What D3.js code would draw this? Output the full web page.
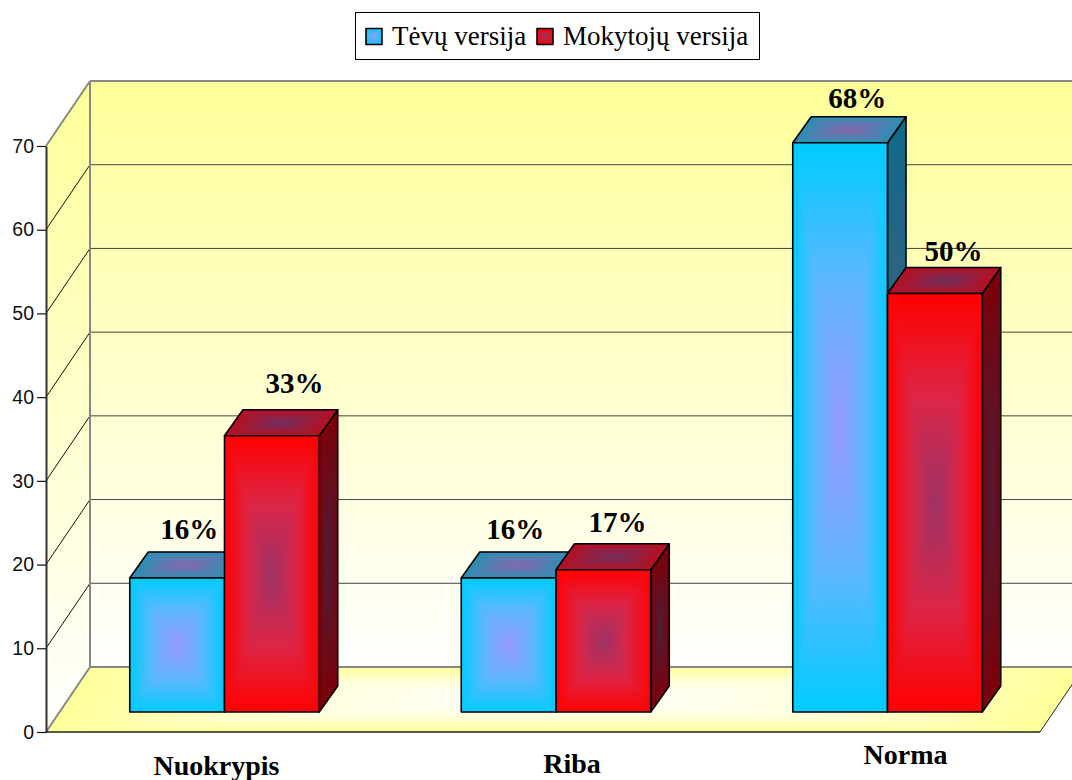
<!DOCTYPE html>
<html><head><meta charset="utf-8">
<script src="https://cdn.jsdelivr.net/npm/d3@7"></script>
<style>html,body{margin:0;padding:0;background:#fff}svg{display:block}</style>
</head><body><div id="c"></div>
<script>
const categories = ["Nuokrypis", "Riba", "Norma"];
const seriesNames = ["Tėvų versija", "Mokytojų versija"];
const tevu = [16, 16, 68];
const mokytoju = [33, 17, 50];
const labelsTevu = ["16%", "16%", "68%"];
const labelsMokytoju = ["33%", "17%", "50%"];
const yTicks = [0, 10, 20, 30, 40, 50, 60, 70];

const W = 1072, H = 780;
const svg = d3.select("#c").append("svg").attr("width", W).attr("height", H);
const defs = svg.append("defs");

const y = d3.scaleLinear().domain([0, 70]).range([732, 146]);
const x = d3.scaleBand().domain(categories).range([58.75, 1053.25]);
const frontX = 46, frontR = 1040;
const wallDx = 44, wallDy = 65;
const barLift = 20, barDx = 18.5, barDy = 26, barW = 94.75;

// hand-placed label offsets of the original chart
const labelDx = [[12, 6.5, 17], [22.5, 14, 18.5]];
const labelDy = [[-39, -39, -35], [-43, -38, -32]];
const catDx = [-8, 16, 18];
const catY = [775, 773, 764];

function lin(id, dir, stops) {
  const g = defs.append("linearGradient").attr("id", id)
    .attr("x1", dir[0]).attr("y1", dir[1]).attr("x2", dir[2]).attr("y2", dir[3]);
  stops.forEach(s => g.append("stop").attr("offset", s[0]).attr("stop-color", s[1]));
  return `url(#${id})`;
}
const pts = a => a.map(p => p.join(",")).join(" ");
let uid = 0;
const blurs = {};
function blurFilter(sd) {
  if (!blurs[sd]) {
    const id = "b" + (uid++);
    const f = defs.append("filter").attr("id", id).attr("filterUnits", "userSpaceOnUse")
      .attr("x", 0).attr("y", 0).attr("width", W).attr("height", H)
      .attr("color-interpolation-filters", "sRGB");
    f.append("feGaussianBlur").attr("stdDeviation", sd);
    blurs[sd] = `url(#${id})`;
  }
  return blurs[sd];
}
// rectangular path gradient: triangles from each edge to the centre, softened and clipped to the face
function pathGrad(g, corners, edge, centre, sd, mid) {
  const cx = d3.mean(corners, p => p[0]), cy = d3.mean(corners, p => p[1]);
  const cid = "c" + (uid++);
  defs.append("clipPath").attr("id", cid).append("polygon").attr("points", pts(corners));
  const inner = g.append("g").attr("clip-path", `url(#${cid})`).append("g").attr("filter", blurFilter(sd));
  inner.append("polygon").attr("points", pts(corners)).attr("fill", edge)
    .attr("stroke", edge).attr("stroke-width", sd * 8);
  corners.forEach((p, i) => {
    const q = corners[(i + 1) % 4];
    const ex = q[0] - p[0], ey = q[1] - p[1];
    const t = ((cx - p[0]) * ex + (cy - p[1]) * ey) / (ex * ex + ey * ey);
    const fx = p[0] + t * ex, fy = p[1] + t * ey;
    const id = "g" + (uid++);
    const gr = defs.append("linearGradient").attr("id", id).attr("gradientUnits", "userSpaceOnUse")
      .attr("x1", fx).attr("y1", fy).attr("x2", cx).attr("y2", cy);
    gr.append("stop").attr("offset", 0).attr("stop-color", edge);
    if (mid) gr.append("stop").attr("offset", mid[0]).attr("stop-color", mid[1]);
    gr.append("stop").attr("offset", 1).attr("stop-color", centre);
    inner.append("polygon").attr("points", pts([p, q, [cx, cy]]))
      .attr("fill", `url(#${id})`).attr("stroke", `url(#${id})`).attr("stroke-width", 0.8);
  });
}
function outline(g, p, w) {
  g.append("polygon").attr("points", pts(p)).attr("fill", "none")
    .attr("stroke", "#000").attr("stroke-width", w || 1.6).attr("stroke-linejoin", "round");
}

// walls
const plotTop = y(70), plotBot = y(0);
const wallFill = lin("wall", [0, 0, 0, 1], [[0, "#ffff99"], [1, "#ffffff"]]);
const bg = svg.append("g");
bg.append("polygon").attr("points", pts([[frontX + wallDx, plotTop - wallDy], [W + 2, plotTop - wallDy], [W + 2, plotBot - wallDy], [frontX + wallDx, plotBot - wallDy]])).attr("fill", wallFill);
bg.append("polygon").attr("points", pts([[frontX, plotTop], [frontX + wallDx, plotTop - wallDy], [frontX + wallDx, plotBot - wallDy], [frontX, plotBot]])).attr("fill", wallFill);

// grid
yTicks.slice(1, -1).forEach(t => {
  bg.append("line").attr("x1", frontX + wallDx).attr("x2", W).attr("y1", y(t) - wallDy).attr("y2", y(t) - wallDy).attr("stroke", "#444").attr("stroke-width", 1);
  bg.append("line").attr("x1", frontX).attr("x2", frontX + wallDx).attr("y1", y(t)).attr("y2", y(t) - wallDy).attr("stroke", "#111").attr("stroke-width", 1);
});

// floor
const floor = svg.append("g");
const fc = [[frontX, plotBot], [frontX + wallDx, plotBot - wallDy], [frontR + wallDx, plotBot - wallDy], [frontR, plotBot]];
pathGrad(floor, fc, "#ffff99", "#ffffff", 2, [0.5, "#ffffe0"]);

// frame lines
const grey = "#888";
const fr = svg.append("g");
fr.append("line").attr("x1", frontX + wallDx).attr("x2", W).attr("y1", plotTop - wallDy).attr("y2", plotTop - wallDy).attr("stroke", grey).attr("stroke-width", 2);
fr.append("line").attr("x1", frontX + wallDx).attr("x2", W).attr("y1", plotBot - wallDy).attr("y2", plotBot - wallDy).attr("stroke", grey).attr("stroke-width", 2);
fr.append("line").attr("x1", frontX + wallDx).attr("x2", frontX + wallDx).attr("y1", plotTop - wallDy).attr("y2", plotBot - wallDy).attr("stroke", grey).attr("stroke-width", 2);
fr.append("line").attr("x1", frontX).attr("x2", frontX + wallDx).attr("y1", plotTop).attr("y2", plotTop - wallDy).attr("stroke", grey).attr("stroke-width", 2);
fr.append("line").attr("x1", frontX).attr("x2", frontX + wallDx).attr("y1", plotBot).attr("y2", plotBot - wallDy).attr("stroke", grey).attr("stroke-width", 2);
fr.append("line").attr("x1", frontR).attr("x2", frontR + wallDx).attr("y1", plotBot).attr("y2", plotBot - wallDy).attr("stroke", "#222").attr("stroke-width", 1);

// axes
const axL = svg.append("g").attr("transform", `translate(${frontX},0)`)
  .call(d3.axisLeft(y).tickValues(yTicks).tickSize(9).tickPadding(3).tickSizeOuter(0));
axL.selectAll("path").attr("stroke", "#333").attr("stroke-width", 2);
axL.selectAll("line").attr("stroke", "#111").attr("stroke-width", 1.2);
axL.selectAll("text").attr("font-family", "Liberation Sans").attr("font-size", 19.5).attr("fill", "#111");
svg.append("line").attr("x1", frontX).attr("x2", frontR).attr("y1", plotBot).attr("y2", plotBot).attr("stroke", "#222").attr("stroke-width", 1.4);

// bars
const palettes = [
  { edge: "#00ccff", centre: "#9999ff", mid: [0.5, "#60b6ff"], top: ["#2a8fb5", "#8a66ad"], side: ["#0f6a88", "#4d5c80"] },
  { edge: "#ff0000", centre: "#993366", mid: [0.5, "#dc2648"], top: ["#b80f20", "#6f2f60"], side: ["#7d0008", "#4a1f38"] }
];
const barsG = svg.append("g");
const labG = svg.append("g");
function drawBar(cat, i, sIdx, val, label) {
  const pal = palettes[sIdx];
  const x0 = x(cat) + x.bandwidth() / 2 - barW + sIdx * barW;
  const x1 = x0 + barW;
  const yb = y(0) - barLift;
  const yt = yb - (y(0) - y(val));
  const g = barsG.append("g");
  const sidePoly = [[x1, yb], [x1 + barDx, yb - barDy], [x1 + barDx, yt - barDy], [x1, yt]];
  pathGrad(g, sidePoly, pal.side[0], pal.side[1], 1.5);
  outline(g, sidePoly);
  const topPoly = [[x0, yt], [x0 + barDx, yt - barDy], [x1 + barDx, yt - barDy], [x1, yt]];
  pathGrad(g, topPoly, pal.top[0], pal.top[1], 1.5);
  outline(g, topPoly);
  const front = [[x0, yt], [x1, yt], [x1, yb], [x0, yb]];
  pathGrad(g, front, pal.edge, pal.centre, 3, pal.mid);
  outline(g, front);
  labG.append("text").attr("x", (x0 + x1) / 2 + labelDx[sIdx][i]).attr("y", yt + labelDy[sIdx][i])
    .attr("text-anchor", "middle").attr("font-family", "Liberation Serif").attr("font-weight", "bold")
    .attr("font-size", 29).attr("fill", "#000").text(label);
}
categories.forEach((c, i) => {
  drawBar(c, i, 0, tevu[i], labelsTevu[i]);
  drawBar(c, i, 1, mokytoju[i], labelsMokytoju[i]);
});

// category labels
categories.forEach((c, i) => {
  svg.append("text").attr("x", x(c) + x.bandwidth() / 2 + catDx[i]).attr("y", catY[i])
    .attr("text-anchor", "middle").attr("font-family", "Liberation Serif").attr("font-weight", "bold")
    .attr("font-size", 28).attr("fill", "#000").text(c);
});

// legend
const lg = svg.append("g");
lg.append("rect").attr("x", 355.5).attr("y", 12.5).attr("width", 404).attr("height", 47).attr("fill", "#fff").attr("stroke", "#000").attr("stroke-width", 1);
const legX = [366, 537], legT = [392, 563];
seriesNames.forEach((n, i) => {
  const s = lg.append("g");
  const c = [[legX[i], 28.5], [legX[i] + 16, 28.5], [legX[i] + 16, 44.5], [legX[i], 44.5]];
  pathGrad(s, c, palettes[i].edge, palettes[i].centre, 0.7);
  outline(s, c);
  lg.append("text").attr("x", legT[i]).attr("y", 45).attr("font-family", "Liberation Serif")
    .attr("font-size", 27).attr("fill", "#000").text(n);
});
</script></body></html>
